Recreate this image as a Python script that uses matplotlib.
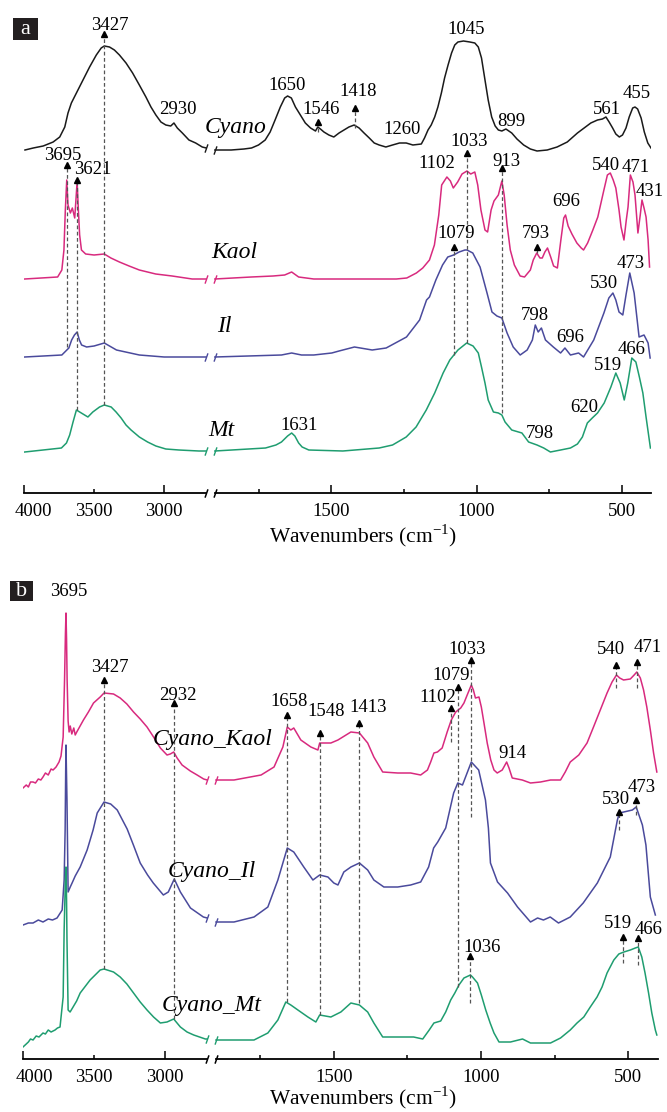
import numpy as np
import matplotlib
matplotlib.use('Agg')
import matplotlib.pyplot as plt
from matplotlib.patches import Rectangle
from matplotlib.transforms import ScaledTranslation

plt.rcParams['font.family'] = 'Liberation Serif'
plt.rcParams['mathtext.fontset'] = 'custom'
plt.rcParams['mathtext.rm'] = 'Liberation Serif'

# ---------------- panel a : (wavenumber, height) pairs ----------------
cyano = [(3993, 343), (3934, 345), (3863, 347), (3792, 351), (3745, 356), (3709, 366), (3686, 380), (3662, 390),
         (3626, 400), (3579, 413), (3532, 426), (3484, 438), (3449, 445), (3427, 447), (3390, 446), (3355, 443),
         (3319, 438), (3272, 430), (3225, 420), (3177, 408), (3130, 396), (3094, 386), (3059, 378), (3023, 371),
         (2988, 368), (2953, 367), (2930, 370), (2906, 365), (2870, 360), (2823, 353), (2775, 350), (2728, 346),
         (2700, 345),
         (1900, 343), (1844, 343), (1800, 344), (1774, 345), (1750, 348), (1727, 353), (1710, 361), (1693, 373),
         (1675, 386), (1660, 395), (1650, 397), (1637, 395), (1623, 386), (1606, 378), (1589, 370), (1571, 365),
         (1554, 362), (1546, 366), (1537, 364), (1525, 361), (1508, 358), (1491, 356), (1473, 360), (1456, 363),
         (1439, 366), (1421, 368), (1404, 365), (1387, 360), (1369, 355), (1352, 350), (1335, 348), (1312, 346),
         (1289, 348), (1265, 350), (1242, 350), (1219, 348), (1190, 349), (1179, 355), (1167, 363), (1156, 368),
         (1144, 376), (1133, 386), (1121, 400), (1110, 415), (1098, 428), (1086, 440), (1075, 448), (1064, 451),
         (1045, 452), (1023, 451), (1006, 450), (994, 446), (983, 435), (971, 413), (960, 393), (948, 376),
         (936, 367), (925, 363), (913, 362), (899, 364), (879, 360), (861, 354), (838, 348), (815, 344), (792, 342),
         (757, 343), (723, 346), (688, 351), (653, 360), (630, 365), (607, 370), (584, 373), (567, 374), (555, 376),
         (544, 371), (532, 365), (521, 359), (509, 356), (498, 358), (486, 365), (475, 376), (463, 385), (455, 386),
         (446, 384), (434, 375), (423, 361), (411, 350), (400, 345)]

kaol = [(3995, 214), (3760, 216), (3730, 223), (3715, 243), (3705, 283), (3695, 313), (3686, 288), (3669, 280),
        (3655, 285), (3638, 275), (3621, 311), (3612, 283), (3603, 258), (3590, 243), (3560, 239), (3500, 238),
        (3427, 239), (3380, 235), (3319, 231), (3250, 227), (3177, 223), (3060, 219), (2943, 217), (2800, 214),
        (2700, 214),
        (1900, 214), (1775, 216), (1700, 217), (1660, 218), (1636, 221), (1612, 216), (1560, 214), (1400, 214),
        (1276, 214), (1240, 215), (1207, 220), (1185, 225), (1162, 233), (1145, 248), (1130, 278), (1120, 308),
        (1102, 316), (1090, 312), (1080, 305), (1065, 311), (1050, 319), (1033, 322), (1020, 319), (1006, 321),
        (996, 308), (985, 283), (971, 263), (962, 261), (950, 283), (940, 292), (925, 298), (913, 312), (905, 298),
        (895, 268), (884, 243), (870, 228), (850, 217), (835, 216), (815, 223), (805, 233), (793, 240), (782, 235),
        (774, 235), (765, 241), (756, 245), (745, 236), (735, 227), (722, 225), (710, 253), (700, 275), (694, 278),
        (685, 267), (672, 259), (655, 250), (640, 245), (632, 243), (618, 250), (600, 263), (583, 276), (562, 303),
        (550, 318), (540, 320), (530, 313), (521, 305), (510, 283), (503, 266), (493, 253), (485, 273), (479, 286),
        (471, 318), (462, 311), (455, 298), (445, 260), (437, 278), (431, 293), (424, 285), (417, 276), (410, 253),
        (405, 226)]

il = [(3995, 136), (3730, 138), (3680, 145), (3660, 153), (3640, 158), (3621, 161), (3605, 153), (3589, 148),
      (3553, 146), (3500, 147), (3427, 150), (3340, 143), (3177, 138), (3000, 136), (2700, 136),
      (1900, 136), (1671, 138), (1636, 140), (1602, 138), (1560, 138), (1498, 140), (1473, 142), (1420, 146),
      (1359, 143), (1311, 145), (1241, 156), (1196, 173), (1172, 193), (1162, 196), (1140, 213), (1117, 228),
      (1099, 236), (1079, 238), (1060, 241), (1040, 243), (1033, 243), (1013, 240), (988, 226), (964, 200),
      (947, 181), (930, 177), (913, 175), (895, 160), (874, 146), (850, 138), (826, 143), (808, 153), (798, 168),
      (788, 161), (777, 165), (763, 153), (736, 146), (711, 140), (696, 145), (677, 138), (649, 140), (632, 136),
      (597, 153), (562, 180), (545, 195), (531, 200), (521, 193), (510, 181), (497, 178), (486, 198), (473, 220),
      (458, 200), (441, 156), (424, 158), (410, 150), (403, 135)]

mt = [(3995, 41), (3733, 45), (3697, 50), (3674, 58), (3650, 71), (3626, 83), (3591, 80), (3544, 76), (3509, 81),
      (3461, 86), (3427, 88), (3378, 86), (3343, 81), (3307, 75), (3272, 68), (3236, 63), (3177, 56), (3118, 51),
      (3059, 47), (2988, 44), (2894, 43), (2752, 42), (2700, 42),
      (1900, 42), (1726, 45), (1690, 48), (1671, 51), (1650, 57), (1636, 60), (1625, 57), (1612, 50), (1600, 46),
      (1577, 43), (1460, 42), (1335, 45), (1289, 48), (1242, 56), (1208, 66), (1173, 83), (1144, 100), (1115, 120),
      (1092, 133), (1064, 143), (1034, 150), (1012, 147), (994, 140), (983, 126), (971, 110), (960, 93), (942, 81),
      (925, 80), (913, 78), (902, 71), (879, 63), (844, 60), (821, 51), (792, 48), (769, 45), (746, 41), (711, 43),
      (677, 45), (653, 49), (636, 56), (619, 70), (602, 75), (584, 80), (561, 90), (538, 106), (521, 120),
      (506, 110), (492, 93), (480, 110), (466, 135), (452, 131), (440, 116), (428, 100), (417, 76), (402, 45)]

# ---------------- panel b ----------------
cy_kaol = [(3998, 271), (3975, 274), (3960, 272), (3945, 277), (3927, 277), (3910, 276), (3890, 280), (3872, 279),
           (3857, 282), (3840, 286), (3820, 284), (3800, 290), (3786, 289), (3765, 292), (3744, 297), (3730, 303),
           (3715, 322), (3705, 380), (3699, 425), (3695, 446), (3691, 420), (3687, 379), (3680, 338), (3673, 327),
           (3665, 333), (3654, 325), (3640, 331), (3630, 324), (3619, 327), (3572, 339), (3537, 347), (3501, 356),
           (3454, 362), (3427, 366), (3360, 365), (3313, 361), (3266, 355), (3219, 347), (3172, 340), (3124, 332),
           (3078, 322), (3030, 311), (2983, 304), (2960, 305), (2936, 307), (2912, 301), (2877, 294), (2819, 288),
           (2771, 284), (2725, 280), (2700, 279),
           (1900, 279), (1839, 279), (1747, 284), (1703, 292), (1673, 312), (1658, 332), (1646, 329), (1636, 331),
           (1612, 319), (1578, 312), (1554, 309), (1548, 316), (1510, 316), (1486, 319), (1442, 327), (1413, 326),
           (1385, 316), (1364, 302), (1334, 287), (1283, 286), (1239, 286), (1205, 284), (1182, 289), (1171, 297),
           (1160, 306), (1148, 307), (1132, 311), (1115, 327), (1101, 339), (1086, 347), (1069, 351), (1058, 356),
           (1047, 364), (1033, 374), (1026, 369), (1019, 361), (1007, 362), (999, 352), (990, 336), (979, 316),
           (967, 299), (956, 289), (945, 286), (928, 289), (913, 297), (905, 291), (894, 281), (877, 280),
           (860, 279), (832, 276), (798, 277), (764, 279), (730, 279), (714, 287), (697, 297), (668, 304), (640, 316),
           (618, 332), (595, 349), (572, 366), (555, 377), (540, 384), (529, 381), (516, 379), (493, 380), (480, 384),
           (471, 387), (459, 381), (448, 369), (437, 352), (425, 329), (414, 306), (403, 287)]

cy_il = [(3998, 134), (3960, 136), (3927, 136), (3890, 139), (3857, 137), (3820, 140), (3790, 139), (3758, 141),
         (3722, 149), (3708, 179), (3701, 229), (3697, 290), (3695, 314), (3692, 290), (3688, 259), (3680, 167),
         (3665, 172), (3652, 176), (3630, 183), (3595, 192), (3546, 209), (3504, 229), (3475, 246), (3427, 257),
         (3380, 255), (3334, 249), (3264, 230), (3220, 214), (3172, 196), (3120, 184), (3080, 176), (3009, 164),
         (2974, 167), (2932, 180), (2889, 167), (2818, 151), (2727, 142), (2700, 141),
         (1900, 137), (1839, 137), (1771, 142), (1724, 152), (1690, 179), (1658, 211), (1636, 207), (1602, 192),
         (1571, 179), (1548, 184), (1520, 182), (1500, 176), (1486, 174), (1466, 187), (1442, 192), (1413, 196),
         (1385, 189), (1364, 179), (1330, 172), (1283, 172), (1239, 174), (1205, 177), (1178, 192), (1161, 211),
         (1147, 217), (1120, 231), (1093, 266), (1079, 276), (1063, 274), (1033, 297), (1008, 289), (985, 259),
         (975, 231), (968, 196), (944, 177), (910, 166), (876, 152), (832, 137), (808, 141), (788, 139), (765, 142),
         (737, 136), (697, 142), (653, 156), (605, 176), (561, 202), (537, 239), (530, 246), (486, 249), (473, 252),
         (452, 234), (440, 214), (425, 162), (408, 144)]

cy_mt = [(3998, 12), (3975, 15), (3960, 17), (3945, 20), (3927, 19), (3905, 23), (3885, 22), (3857, 26), (3840, 25),
         (3820, 29), (3800, 27), (3772, 29), (3755, 31), (3737, 32), (3715, 62), (3708, 129), (3700, 175),
         (3695, 192), (3691, 160), (3688, 119), (3680, 49), (3666, 47), (3645, 52), (3620, 58), (3595, 66),
         (3525, 79), (3454, 89), (3427, 90), (3360, 87), (3313, 82), (3266, 75), (3219, 66), (3172, 57), (3124, 49),
         (3078, 42), (3030, 36), (2983, 37), (2936, 40), (2889, 32), (2842, 27), (2795, 24), (2713, 20), (2700, 20),
         (1900, 19), (1771, 19), (1724, 26), (1690, 39), (1663, 57), (1646, 54), (1622, 49), (1588, 42), (1561, 37),
         (1548, 44), (1510, 42), (1476, 47), (1442, 56), (1413, 54), (1385, 47), (1364, 36), (1334, 22), (1283, 22),
         (1229, 22), (1198, 20), (1176, 29), (1160, 36), (1137, 38), (1120, 47), (1103, 59), (1089, 66), (1075, 74),
         (1058, 81), (1036, 84), (1029, 82), (1012, 76), (999, 64), (984, 49), (969, 36), (956, 26), (939, 17),
         (900, 17), (859, 20), (832, 16), (764, 16), (730, 21), (697, 29), (674, 36), (651, 42), (629, 52), (606, 62),
         (589, 72), (572, 86), (549, 99), (532, 105), (515, 107), (493, 109), (476, 111), (466, 112), (454, 102),
         (443, 86), (431, 66), (420, 46), (408, 29), (403, 24)]

# peak labels panel a (text, wavenumber, height)
a_lab_txt = ['3427', '2930', '1650', '1546', '1418', '1260', '1045', '899', '561', '455', '1033', '1102', '913',
             '540', '471', '431', '696', '793', '1079', '3695', '3621', '1631', '798', '696', '530', '473', '519',
             '466', '620', '798']
a_lab_w = [3390, 2900, 1652, 1534, 1407, 1255, 1035, 879, 552, 448, 1024, 1138, 897,
           555, 452, 403, 690, 797, 1069, 3721, 3507, 1610, 800, 679, 562, 469, 548,
           466, 628, 783]
a_lab_h = [468, 383, 408, 384, 401, 364, 463, 372, 384, 400, 351, 330, 331,
           327, 325, 302, 291, 260, 260, 338, 323, 68, 178, 155, 210, 230, 128,
           143, 85, 60]
a_arrow_w = [3427, 1546, 1418, 1033, 913, 793, 1079, 3695, 3621]
a_arrow_top = [459, 371, 385, 340, 325, 246, 246, 328, 313]
a_arrow_bot = [88, 361, 365, 150, 80, 240, 138, 146, 83]
a_names = ['Cyano', 'Kaol', 'Il', 'Mt']
a_name_w = [1828, 1834, 1869, 1876]
a_name_h = [366, 240, 166, 63]

# peak labels panel b
b_lab_txt = ['3695', '3427', '2932', '1658', '1548', '1413', '1033', '1079', '1102', '914', '540', '471',
             '530', '473', '1036', '519', '466']
b_lab_w = [3673, 3383, 2910, 1653, 1527, 1385, 1046, 1103, 1147, 893, 558, 433, 541, 456, 998, 534, 432]
b_lab_h = [467, 392, 364, 357, 347, 352, 409, 384, 362, 306, 409, 411, 259, 272, 112, 136, 129]
b_arrow_w = [3427, 2932, 1658, 1548, 1413, 1033, 1079, 1102, 540, 471, 530, 473, 1036, 519, 466]
b_arrow_top = [379, 356, 344, 326, 336, 399, 372, 351, 394, 397, 247, 259, 103, 122, 121]
b_arrow_bot = [90, 40, 57, 44, 56, 242, 72, 317, 371, 371, 229, 244, 56, 96, 94]
b_names = ['Cyano_Kaol', 'Cyano_Il', 'Cyano_Mt']
b_name_w = [2170, 2250, 2250]
b_name_h = [319, 188, 53]

BLACK = '#1a1a1a'
PINK = '#d82a7e'
BLUE = '#4a4a9c'
GREEN = '#1f9d70'
DASH = '#555555'
SLASH = [(-0.35, -1.0), (0.35, 1.0)]

# broken wavenumber axis: 4000-2700 compressed, gap, 1900-400
GAP = 30.0
K = 0.482


def fwd(w):
    w = np.asarray(w, dtype=float)
    return np.where(w <= 1900, w - 400,
                    np.where(w < 2700, 1500 + (w - 1900) * GAP / 800, 1500 + GAP + (w - 2700) * K))


def inv(u):
    u = np.asarray(u, dtype=float)
    return np.where(u <= 1500, u + 400,
                    np.where(u < 1500 + GAP, 1900 + (u - 1500) * 800 / GAP, 2700 + (u - 1500 - GAP) / K))


def curve(ax, pts, color):
    w = np.array([p[0] for p in pts])
    h = np.array([p[1] for p in pts])
    hi = w >= 2700
    lo = w <= 1900
    ax.plot(w[hi], h[hi], color=color, lw=1.1, solid_joinstyle='round')
    ax.plot(w[lo], h[lo], color=color, lw=1.1, solid_joinstyle='round')
    ax.plot([2700, 1900], [h[hi][-1], h[lo][0]], ls='none', marker=SLASH, ms=6, mec=color, mew=1.0)


def setup(ax, top, shift, pad, label_x, label_y):
    ax.set_xscale('function', functions=(fwd, inv))
    ax.set_xlim(4000, 400)
    ax.set_ylim(0, top)
    for s in ax.spines.values():
        s.set_visible(False)
    tr = ax.get_xaxis_transform()
    ax.plot([4000, 2700], [0, 0], transform=tr, color='k', lw=1.3, clip_on=False)
    ax.plot([1900, 400], [0, 0], transform=tr, color='k', lw=1.3, clip_on=False)
    ax.plot([2700, 1900], [0, 0], transform=tr, ls='none', marker=SLASH, ms=6, mec='k', mew=1.1, clip_on=False)
    ax.set_xticks([4000, 3000, 1500, 1000, 500])
    ax.set_xticklabels(['4000', '3000', '1500', '1000', '500'])
    ax.set_xticks([3500, 1750, 1250, 750], minor=True)
    ax.set_xticklabels(['3500', '', '', ''], minor=True)
    ax.tick_params(axis='x', which='major', direction='in', length=6, width=1.1, pad=pad, labelsize=13.5)
    ax.tick_params(axis='x', which='minor', direction='in', length=3, width=1.1, pad=pad, labelsize=13.5)
    ax.tick_params(axis='y', left=False, labelleft=False)
    ticks = ax.xaxis.get_major_ticks()
    t0 = ticks[0].label1
    t0.set_transform(t0.get_transform() + ScaledTranslation(shift, 0, fig.dpi_scale_trans))
    ax.set_xlabel('Wavenumbers (cm$^{-1}$)', fontsize=15.5)
    ax.xaxis.label.set_verticalalignment('baseline')
    ax.xaxis.set_label_coords(label_x, label_y)


def marks(ax, txt, tw, th, aw, atop, abot):
    for s, x, y in zip(txt, tw, th):
        ax.text(x, y, s, ha='center', va='center', fontsize=13.5)
    for x, t, b in zip(aw, atop, abot):
        ax.plot([x, x], [b, t - 3], color=DASH, lw=0.9, ls=(0, (3, 2)))
        ax.plot([x], [t], marker='^', color='k', ms=5, ls='none')


fig = plt.figure(figsize=(6.67, 11.12), dpi=100)

# panel a
ax1 = fig.add_axes([24 / 667, (1112 - 493) / 1112, 627 / 667, 493 / 1112])
setup(ax1, 493, 0.09, 7, 0.541, -0.1)
curve(ax1, cyano, BLACK)
curve(ax1, kaol, PINK)
curve(ax1, il, BLUE)
curve(ax1, mt, GREEN)
marks(ax1, a_lab_txt, a_lab_w, a_lab_h, a_arrow_w, a_arrow_top, a_arrow_bot)
for s, x, y in zip(a_names, a_name_w, a_name_h):
    ax1.text(x, y, s, ha='center', va='center', fontsize=17, style='italic')

# panel b
ax2 = fig.add_axes([22.7 / 667, (1112 - 1059) / 1112, 635 / 667, 494 / 1112])
setup(ax2, 494, 0.12, 7, 0.536, -0.091)
curve(ax2, cy_kaol, PINK)
curve(ax2, cy_il, BLUE)
curve(ax2, cy_mt, GREEN)
marks(ax2, b_lab_txt, b_lab_w, b_lab_h, b_arrow_w, b_arrow_top, b_arrow_bot)
for s, x, y in zip(b_names, b_name_w, b_name_h):
    ax2.text(x, y, s, ha='center', va='center', fontsize=17, style='italic')

# panel letters
for lab, x, y, w, h in [('a', 13, 18, 25, 22), ('b', 10, 581, 23, 20)]:
    fig.patches.append(Rectangle((x / 667, 1 - (y + h) / 1112), w / 667, h / 1112,
                                 transform=fig.transFigure, fc='#231f20', ec='none'))
    fig.text((x + w / 2) / 667, 1 - (y + h / 2 + 1) / 1112, lab, color='white', fontsize=16,
             ha='center', va='center')

fig.savefig('out.png', dpi=100)
